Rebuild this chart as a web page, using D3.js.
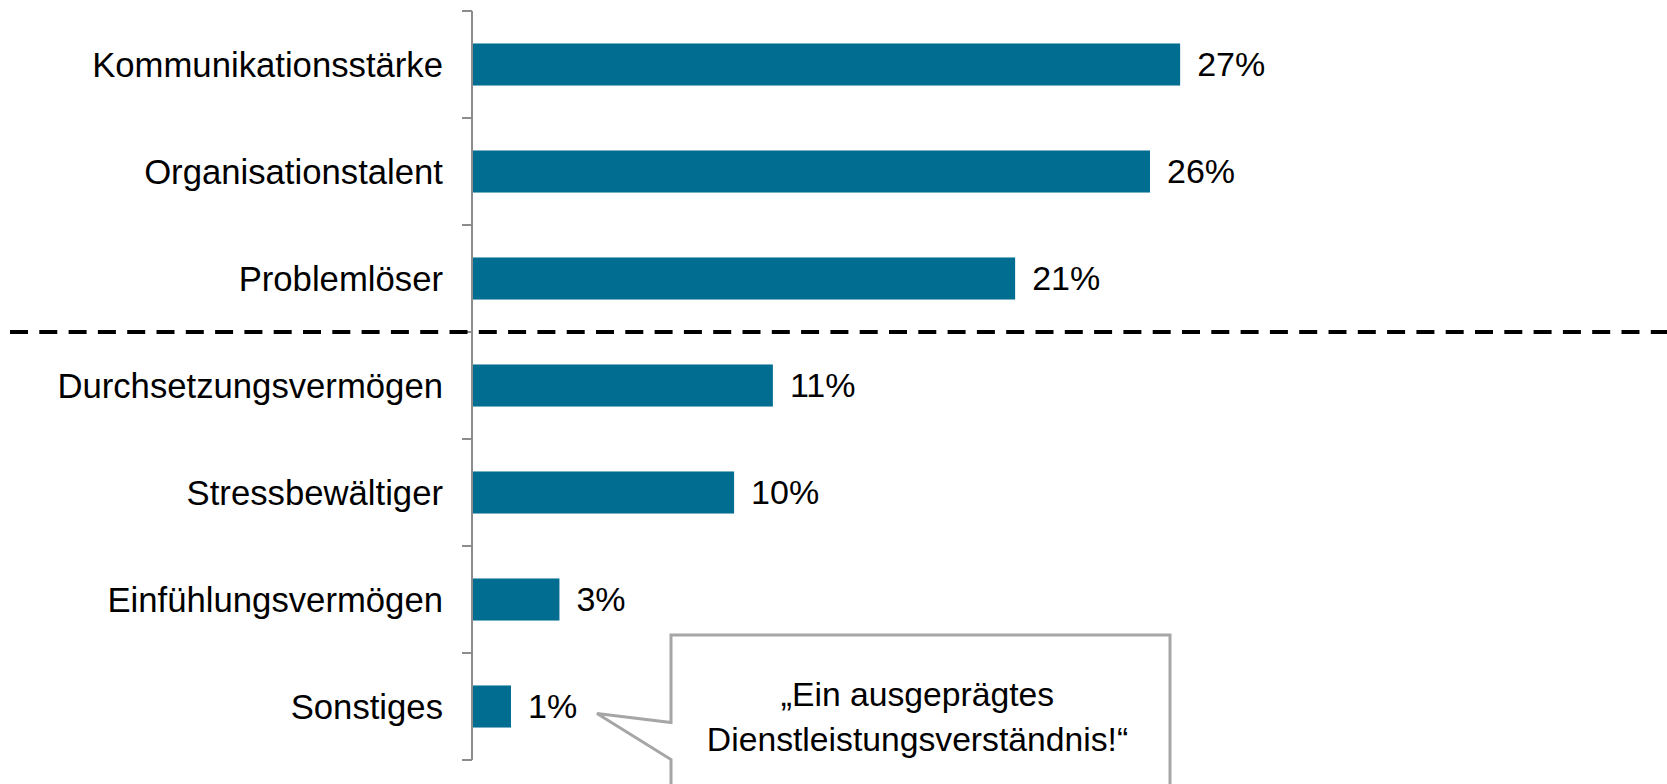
<!DOCTYPE html>
<html>
<head>
<meta charset="utf-8">
<script src="https://cdn.jsdelivr.net/npm/d3@7"></script>
<style>
  html, body { margin: 0; padding: 0; background: #fff; }
  svg { display: block; font-family: "Liberation Sans", Arial, sans-serif; }
</style>
</head>
<body>
<div id="chart"></div>
<script>
// Kategorien und Werte (Anteile in %)
var categories = ['Kommunikationsstärke', 'Organisationstalent', 'Problemlöser',
  'Durchsetzungsvermögen', 'Stressbewältiger', 'Einfühlungsvermögen', 'Sonstiges'];
var values = [27.0, 25.85, 20.7, 11.45, 9.97, 3.3, 1.45];
var valueLabels = ['27%', '26%', '21%', '11%', '10%', '3%', '1%'];
var calloutLines = ['„Ein ausgeprägtes', 'Dienstleistungsverständnis!“'];
// Trennlinie nach der dritten Kategorie
var splitAfter = 2;

var width = 1667;
var height = 784;
var axisX = 472;

var svg = d3.select('#chart').append('svg')
  .attr('width', width)
  .attr('height', height);

var y = d3.scaleBand()
  .domain(categories)
  .range([11, 760])
  .paddingInner(0.607)
  .paddingOuter(0.3035);

var x = d3.scaleLinear()
  .domain([0, 30])
  .range([axisX + 1, axisX + 1 + 30 * 26.19]);

var halfGap = y.step() * y.paddingInner() / 2;

// Balken
svg.append('g')
  .selectAll('rect')
  .data(values)
  .join('rect')
  .attr('x', x(0))
  .attr('y', function(d, i) { return y(categories[i]); })
  .attr('width', function(d) { return x(d) - x(0); })
  .attr('height', y.bandwidth())
  .attr('fill', '#006d91');

// Werte
svg.append('g')
  .selectAll('text')
  .data(values)
  .join('text')
  .attr('x', function(d) { return x(d) + 17; })
  .attr('y', function(d, i) { return y(categories[i]) + y.bandwidth() / 2; })
  .attr('dy', '0.35em')
  .attr('font-size', 34)
  .attr('fill', '#000')
  .text(function(d, i) { return valueLabels[i]; });

// Achse mit Teilstrichen an den Kategoriegrenzen
var axis = svg.append('g');
var bounds = categories.map(function(c) { return y(c) - halfGap; });
bounds.push(y(categories[categories.length - 1]) + y.bandwidth() + halfGap);

axis.append('line')
  .attr('x1', axisX).attr('x2', axisX)
  .attr('y1', bounds[0]).attr('y2', bounds[bounds.length - 1])
  .attr('stroke', '#8c8c8c')
  .attr('stroke-width', 2);

axis.selectAll('.tick')
  .data(bounds)
  .join('line')
  .attr('class', 'tick')
  .attr('x1', axisX - 10).attr('x2', axisX)
  .attr('y1', function(d) { return d; })
  .attr('y2', function(d) { return d; })
  .attr('stroke', '#8c8c8c')
  .attr('stroke-width', 2);

axis.selectAll('.label')
  .data(categories)
  .join('text')
  .attr('class', 'label')
  .attr('x', axisX - 29)
  .attr('y', function(d) { return y(d) + y.bandwidth() / 2; })
  .attr('dy', '0.35em')
  .attr('text-anchor', 'end')
  .attr('font-size', 34.7)
  .attr('fill', '#000')
  .text(function(d) { return d; });

// gestrichelte Trennlinie
svg.append('line')
  .attr('x1', 10).attr('x2', width)
  .attr('y1', bounds[splitAfter + 1]).attr('y2', bounds[splitAfter + 1])
  .attr('stroke', '#000')
  .attr('stroke-width', 4)
  .attr('stroke-dasharray', '18,11.3');

// Sprechblase zu "Sonstiges"
var last = categories.length - 1;
var tipX = x(values[last]) + 86;
var tipY = y(categories[last]) + y.bandwidth() / 2 + 7;
var boxL = 671, boxT = 635, boxR = 1170, boxB = 800;
var callout = svg.append('g');
callout.append('path')
  .attr('d', 'M' + boxL + ',' + boxT +
    'H' + boxR + 'V' + boxB + 'H' + boxL +
    'V' + (tipY + 46) + 'L' + tipX + ',' + tipY +
    'L' + boxL + ',' + (tipY + 9) + 'Z')
  .attr('fill', '#fff')
  .attr('stroke', '#a6a6a6')
  .attr('stroke-width', 3)
  .attr('stroke-linejoin', 'miter');

callout.selectAll('text')
  .data(calloutLines)
  .join('text')
  .attr('x', (boxL + boxR) / 2 - 3)
  .attr('y', function(d, i) { return 706 + i * 45; })
  .attr('text-anchor', 'middle')
  .attr('font-size', 33.7)
  .attr('fill', '#000')
  .text(function(d) { return d; });
</script>
</body>
</html>
